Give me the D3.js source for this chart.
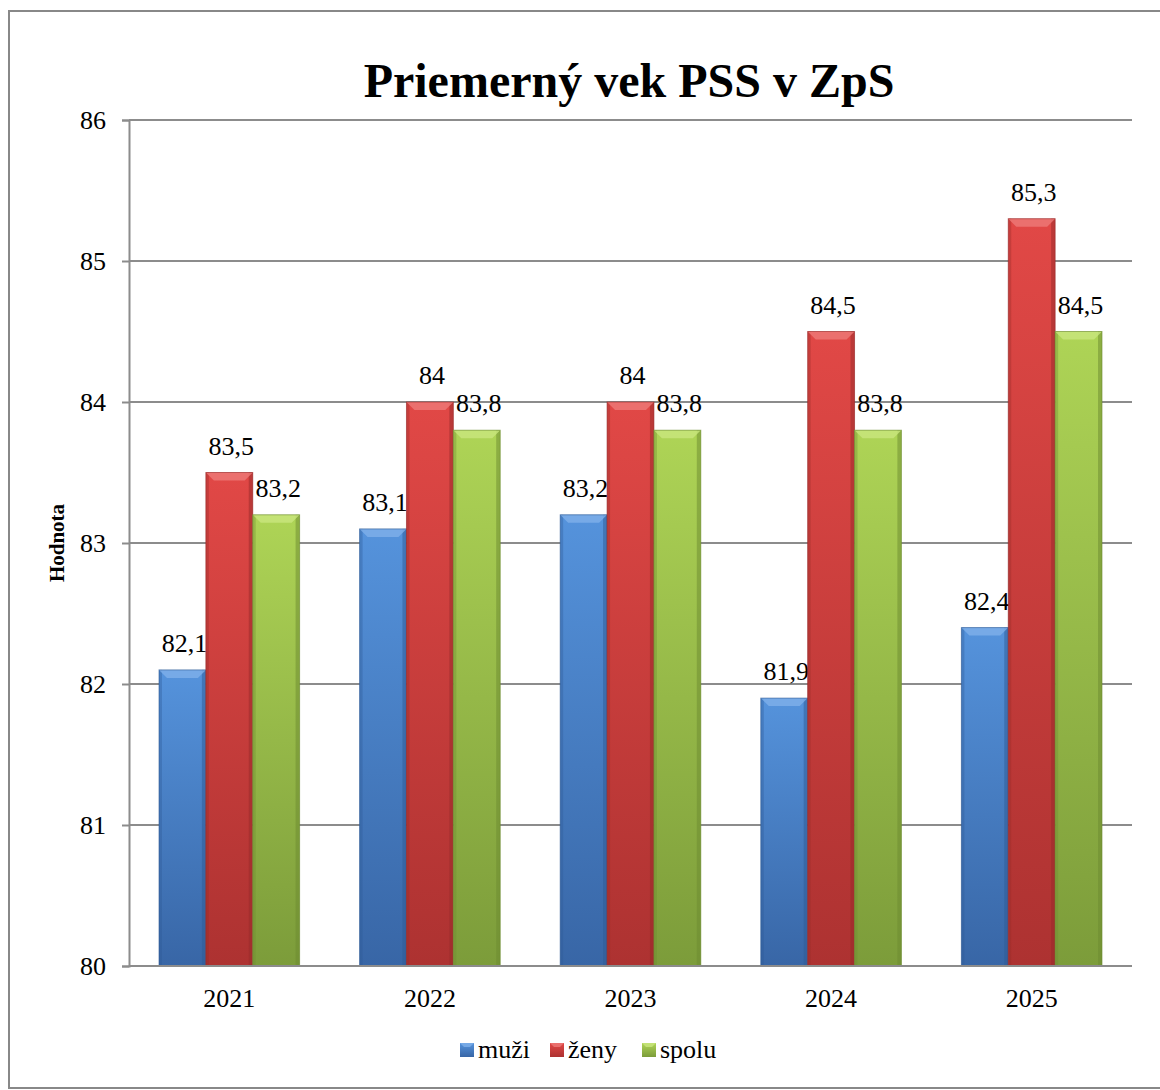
<!DOCTYPE html>
<html>
<head>
<meta charset="utf-8">
<script src="https://cdn.jsdelivr.net/npm/d3@7"></script>
<style>
  body { margin: 0; background: #fff; }
  svg text { font-family: "Liberation Serif", "Times New Roman", "DejaVu Serif", serif !important; fill: #000; }
</style>
</head>
<body>
<div id="chart"></div>
<script>
const years = ["2021", "2022", "2023", "2024", "2025"];
const series = ["muži", "ženy", "spolu"];
const muzi = [82.1, 83.1, 83.2, 81.9, 82.4];
const zeny = [83.5, 84, 84, 84.5, 85.3];
const spolu = [83.2, 83.8, 83.8, 83.8, 84.5];
const yTicks = [80, 81, 82, 83, 84, 85, 86];

const values = [muzi, zeny, spolu];
const colors = {
  "muži": {top: "#5593dc", bottom: "#3866a6", edge: "#2f5a94", light: "#7fb0ea"},
  "ženy": {top: "#e14846", bottom: "#ad3231", edge: "#962a29", light: "#ee7a78"},
  "spolu": {top: "#aed456", bottom: "#7c9c3a", edge: "#6c8a30", light: "#c9e67e"}
};

const width = 1160, height = 1090;
const margin = {top: 120, left: 129, right: 28, bottom: 124};

const svg = d3.select("#chart").append("svg")
  .attr("width", width).attr("height", height);

const defs = svg.append("defs");
series.forEach(function(s, i) {
  const g = defs.append("linearGradient").attr("id", "grad" + i)
    .attr("x1", 0).attr("y1", 0).attr("x2", 0).attr("y2", 1);
  g.append("stop").attr("offset", "0%").attr("stop-color", colors[s].top);
  g.append("stop").attr("offset", "100%").attr("stop-color", colors[s].bottom);
});

// outer border
svg.append("rect")
  .attr("x", 9).attr("y", 11).attr("width", 1160).attr("height", 1077)
  .attr("fill", "none").attr("stroke", "#888").attr("stroke-width", 2);

const x = d3.scaleBand().domain(years)
  .range([margin.left, width - margin.right]).paddingInner(0).paddingOuter(0);
const xInner = d3.scaleBand().domain(series)
  .range([0, x.bandwidth()]).paddingOuter(0.64).paddingInner(0);
const y = d3.scaleLinear().domain([80, 86])
  .range([height - margin.bottom, margin.top]);

// gridlines
svg.append("g").selectAll("line").data(yTicks.slice(1)).enter().append("line")
  .attr("x1", margin.left).attr("x2", width - margin.right)
  .attr("y1", d => y(d)).attr("y2", d => y(d))
  .attr("stroke", "#8c8c8c").attr("stroke-width", 2);

// y axis
const yAxis = svg.append("g")
  .attr("transform", `translate(${margin.left},0)`)
  .call(d3.axisLeft(y).tickValues(yTicks).tickSize(7).tickPadding(16).tickFormat(d3.format("d")));
yAxis.attr("font-family", null).attr("font-size", null);
yAxis.selectAll("line").attr("stroke", "#8c8c8c").attr("stroke-width", 2);
yAxis.select(".domain").attr("stroke", "#8c8c8c").attr("stroke-width", 2);
yAxis.selectAll("text").style("font-size", "26px").attr("dy", "0.34em").attr("fill", "#000");

// bars
const groups = svg.append("g").selectAll("g").data(years).enter().append("g")
  .attr("transform", d => `translate(${x(d)},0)`);

groups.each(function(yr, yi) {
  const g = d3.select(this);
  series.forEach(function(s, si) {
    const v = values[si][yi];
    const bx = xInner(s), bw = xInner.bandwidth();
    const by = y(v), bh = y(80) - y(v);
    const bev = 8;
    const c = colors[s];
    g.append("rect").attr("x", bx).attr("y", by).attr("width", bw).attr("height", bh)
      .attr("fill", `url(#grad${si})`);
    // side bevels
    g.append("rect").attr("x", bx).attr("y", by).attr("width", 3).attr("height", bh)
      .attr("fill", c.edge).attr("opacity", 0.35);
    g.append("rect").attr("x", bx + bw - 4).attr("y", by).attr("width", 4).attr("height", bh)
      .attr("fill", c.edge).attr("opacity", 0.5);
    // top bevel
    g.append("polygon")
      .attr("points", `${bx},${by} ${bx + bw},${by} ${bx + bw - bev},${by + bev} ${bx + bev},${by + bev}`)
      .attr("fill", c.light).attr("opacity", 0.8);
    g.append("rect").attr("x", bx).attr("y", by).attr("width", bw).attr("height", bh)
      .attr("fill", "none").attr("stroke", c.edge).attr("stroke-width", 1).attr("opacity", 0.6);
    g.append("text")
      .attr("x", bx + bw / 2 + 2).attr("y", by - 18)
      .attr("text-anchor", "middle").style("font-size", "26px")
      .text(String(v).replace(".", ","));
  });
});

// bottom axis line
svg.append("line")
  .attr("x1", margin.left).attr("x2", width - margin.right)
  .attr("y1", y(80)).attr("y2", y(80))
  .attr("stroke", "#8c8c8c").attr("stroke-width", 2);

// x labels
svg.append("g").selectAll("text").data(years).enter().append("text")
  .attr("x", d => x(d) + x.bandwidth() / 2).attr("y", y(80) + 41)
  .attr("text-anchor", "middle").style("font-size", "26px")
  .text(d => d);

// title
svg.append("text")
  .attr("x", 629).attr("y", 97)
  .attr("text-anchor", "middle").style("font-size", "48px").style("font-weight", "bold")
  .text("Priemerný vek PSS v ZpS");

// y axis label
svg.append("text")
  .attr("transform", `translate(64,${(y(80) + y(86)) / 2}) rotate(-90)`)
  .attr("text-anchor", "middle").style("font-size", "21px").style("font-weight", "bold")
  .text("Hodnota");

// legend
const legendX = [460, 550, 642];
const legend = svg.append("g").selectAll("g").data(series).enter().append("g")
  .attr("transform", (d, i) => `translate(${legendX[i]},1043)`);
legend.append("rect").attr("width", 14).attr("height", 14)
  .attr("fill", (d, i) => `url(#grad${i})`);
legend.append("polygon").attr("points", "0,0 14,0 10,4 4,4")
  .attr("fill", d => colors[d].light).attr("opacity", 0.8);
legend.append("text").attr("x", 18).attr("y", 15)
  .style("font-size", "26px").text(d => d);
</script>
</body>
</html>
